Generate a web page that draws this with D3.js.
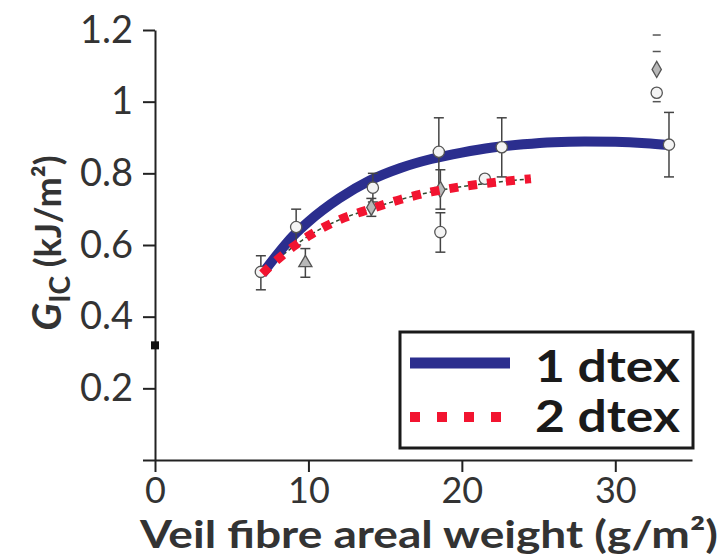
<!DOCTYPE html>
<html>
<head>
<meta charset="utf-8">
<script src="https://cdnjs.cloudflare.com/ajax/libs/d3/7.8.5/d3.min.js"></script>
<style>
  body { margin: 0; background: #fff; }
  svg { font-family: Lato, "Open Sans", sans-serif; }
</style>
</head>
<body>
<div id="chart-area"></div>
<script>
// fitted curve, 1 dtex
var blueX = [7, 8, 9, 10, 12, 14, 16, 18, 20, 22, 24, 26, 28, 30, 32, 33.5];
var blueY = [0.52, 0.575, 0.625, 0.665, 0.73, 0.78, 0.815, 0.84, 0.858, 0.872, 0.881, 0.887, 0.889, 0.888, 0.884, 0.879];

// fitted curve, 2 dtex
var redX = [7, 8, 9, 10, 12, 14, 16, 18, 20, 22, 24.5];
var redY = [0.52, 0.56, 0.595, 0.625, 0.67, 0.70, 0.727, 0.748, 0.763, 0.774, 0.785];

// measured points: x, G_IC, low, high, marker
var ptX = [6.9, 9.2, 9.8, 14.2, 14.1, 18.5, 18.6, 18.6, 21.5, 22.6, 33.5, 32.7, 32.7];
var ptY = [0.525, 0.65, 0.55, 0.76, 0.705, 0.86, 0.755, 0.636, 0.785, 0.873, 0.88, 1.025, 1.09];
var ptLo = [0.475, 0.60, 0.51, 0.72, 0.68, 0.76, 0.70, 0.58, null, 0.79, 0.79, null, null];
var ptHi = [0.57, 0.70, 0.59, 0.80, 0.73, 0.955, 0.81, 0.69, null, 0.955, 0.97, null, null];
var ptShape = ["circle", "circle", "triangle", "circle", "diamond", "circle", "diamond", "circle", "circle", "circle", "circle", "circle", "diamond"];

// stray error caps above the 33 g/m2 column
var capX = [32.7, 32.7, 32.7];
var capY = [1.186, 1.14, 1.0];

// reference (no veil)
var baseX = [0];
var baseY = [0.32];

var xTicks = [0, 10, 20, 30];
var yTicks = [0, 0.2, 0.4, 0.6, 0.8, 1, 1.2];
var legendLabels = ["1 dtex", "2 dtex"];

var margin = { left: 155, right: 32, top: 30, bottom: 98 };
var width = 724 - margin.left - margin.right;
var height = 558 - margin.top - margin.bottom;

var svg = d3.select("#chart-area")
	.append("svg")
	.attr("width", 724)
	.attr("height", 558);

var g = svg.append("g")
	.attr("transform", "translate(" + margin.left + ", " + margin.top + ")");

var x = d3.scaleLinear().domain([0, 35]).range([0, width]);
var y = d3.scaleLinear().domain([0, 1.2]).range([height, 0]);

// axes
var xAxisCall = d3.axisBottom(x)
	.tickValues(xTicks)
	.tickSize(12)
	.tickSizeOuter(0)
	.tickPadding(5);
var xAxisGroup = g.append("g")
	.attr("transform", "translate(0, " + height + ")")
	.call(xAxisCall);

var yAxisCall = d3.axisLeft(y)
	.tickValues(yTicks)
	.tickSize(12)
	.tickSizeOuter(0)
	.tickPadding(10)
	.tickFormat(d => d === 0 ? "" : String(+d.toFixed(1)));
var yAxisGroup = g.append("g").call(yAxisCall);

[xAxisGroup, yAxisGroup].forEach(ax => {
	ax.selectAll("path, line").attr("stroke", "#222").attr("stroke-width", 2);
	ax.selectAll("text").attr("fill", "#333").attr("font-family", "Lato");
});
xAxisGroup.selectAll("text").attr("font-size", "36px");
yAxisGroup.selectAll("text").attr("font-size", "38px");

// axis labels
g.append("text")
	.attr("x", -margin.left + 140)
	.attr("y", height + 88)
	.attr("font-size", "38px")
	.attr("font-weight", "bold")
	.attr("fill", "#333")
	.attr("textLength", 578)
	.attr("lengthAdjust", "spacingAndGlyphs")
	.text("Veil fibre areal weight (g/m²)");

var yLabel = g.append("text")
	.attr("transform", "translate(" + (-margin.left + 61) + ", " + (height / 2 - 2) + ") rotate(-90)")
	.attr("text-anchor", "middle")
	.attr("font-size", "36px")
	.attr("font-weight", "bold")
	.attr("fill", "#333");
yLabel.append("tspan").attr("font-style", "italic").attr("font-size", "41px").text("G");
yLabel.append("tspan").attr("font-size", "28px").attr("dy", 9).text("IC");
yLabel.append("tspan").attr("dy", -9).text(" (kJ/m²)");

// fitted curves
var line = d3.line().curve(d3.curveMonotoneX);

g.append("path")
	.attr("d", line(redX.map((d, i) => [x(d), y(redY[i])])))
	.attr("fill", "none")
	.attr("stroke", "#2f4a2f")
	.attr("stroke-width", 1.5)
	.attr("stroke-dasharray", "4 3");

g.append("path")
	.attr("d", line(blueX.map((d, i) => [x(d), y(blueY[i])])))
	.attr("fill", "none")
	.attr("stroke", "#2b2e8e")
	.attr("stroke-width", 10);

// error bars
var pts = ptX.map((d, i) => ({ x: d, y: ptY[i], lo: ptLo[i], hi: ptHi[i], shape: ptShape[i] }));
var err = g.selectAll(".err").data(pts.filter(d => d.lo !== null)).enter().append("g");
err.append("line")
	.attr("x1", d => x(d.x)).attr("x2", d => x(d.x))
	.attr("y1", d => y(d.lo)).attr("y2", d => y(d.hi))
	.attr("stroke", "#444").attr("stroke-width", 1.5);
[d => d.lo, d => d.hi].forEach(f => {
	err.append("line")
		.attr("x1", d => x(d.x) - 5).attr("x2", d => x(d.x) + 5)
		.attr("y1", d => y(f(d))).attr("y2", d => y(f(d)))
		.attr("stroke", "#444").attr("stroke-width", 1.5);
});

g.selectAll(".cap").data(capY).enter().append("line")
	.attr("x1", (d, i) => x(capX[i]) - 4).attr("x2", (d, i) => x(capX[i]) + 4)
	.attr("y1", d => y(d)).attr("y2", d => y(d))
	.attr("stroke", "#555").attr("stroke-width", 1.5);

// markers
var sym = { circle: d3.symbolCircle, diamond: d3.symbolDiamond, triangle: d3.symbolTriangle };
g.selectAll(".pt").data(pts).enter().append("path")
	.attr("transform", d => "translate(" + x(d.x) + ", " + y(d.y) + ")")
	.attr("d", d => d3.symbol().type(sym[d.shape]).size(d.shape === "circle" ? 100 : 75)())
	.attr("fill", d => d.shape === "circle" ? "#f4f4f4" : "#b8b8b8")
	.attr("stroke", "#555")
	.attr("stroke-width", 1.3);

g.selectAll(".base").data(baseX).enter().append("rect")
	.attr("x", d => x(d) - 4).attr("y", (d, i) => y(baseY[i]) - 4)
	.attr("width", 8).attr("height", 8)
	.attr("fill", "#111");

// dotted 2 dtex curve on top
g.append("path")
	.attr("d", line(redX.map((d, i) => [x(d), y(redY[i])])))
	.attr("fill", "none")
	.attr("stroke", "#f21430")
	.attr("stroke-width", 9)
	.attr("stroke-dasharray", "9 10");

// legend
var legend = svg.append("g").attr("transform", "translate(400, 332)");
legend.append("rect")
	.attr("width", 293).attr("height", 116)
	.attr("fill", "#fff").attr("stroke", "#1a1a1a").attr("stroke-width", 3);
legend.append("line")
	.attr("x1", 10).attr("x2", 110).attr("y1", 31).attr("y2", 31)
	.attr("stroke", "#2b2e8e").attr("stroke-width", 11);
legend.append("line")
	.attr("x1", 10).attr("x2", 102).attr("y1", 85).attr("y2", 85)
	.attr("stroke", "#f21430").attr("stroke-width", 10)
	.attr("stroke-dasharray", "10 17");
legend.selectAll(".lt").data(legendLabels).enter().append("text")
	.attr("x", 135)
	.attr("y", (d, i) => 50 + i * 50)
	.attr("font-size", "44px")
	.attr("font-weight", "bold")
	.attr("fill", "#1a1a1a")
	.attr("textLength", 145)
	.attr("lengthAdjust", "spacingAndGlyphs")
	.text(d => d);
</script>
</body>
</html>
